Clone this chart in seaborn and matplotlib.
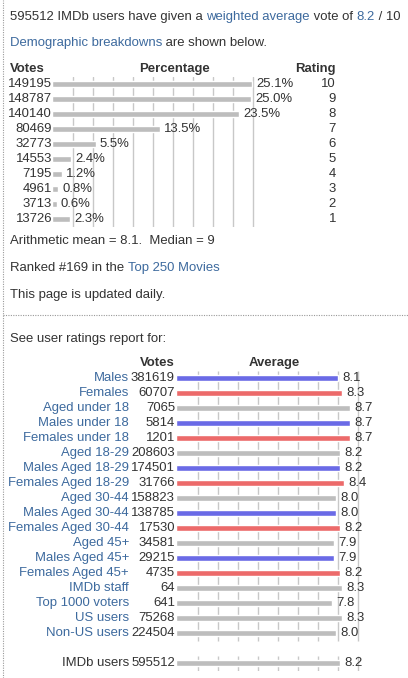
import numpy as np
import pandas as pd
import seaborn as sns
import matplotlib.pyplot as plt
from matplotlib.transforms import blended_transform_factory
from matplotlib.lines import Line2D

# rating distribution
ratings = [10, 9, 8, 7, 6, 5, 4, 3, 2, 1]
votes = [149195, 148787, 140140, 80469, 32773, 14553, 7195, 4961, 3713, 13726]
pct = [25.1, 25.0, 23.5, 13.5, 5.5, 2.4, 1.2, 0.8, 0.6, 2.3]

# demographic breakdown
groups = ["Males", "Females", "Aged under 18", "Males under 18", "Females under 18",
          "Aged 18-29", "Males Aged 18-29", "Females Aged 18-29", "Aged 30-44",
          "Males Aged 30-44", "Females Aged 30-44", "Aged 45+", "Males Aged 45+",
          "Females Aged 45+", "IMDb staff", "Top 1000 voters", "US users",
          "Non-US users", "IMDb users"]
group_votes = [381619, 60707, 7065, 5814, 1201, 208603, 174501, 31766, 158823,
               138785, 17530, 34581, 29215, 4735, 64, 641, 75268, 224504, 595512]
group_avg = [8.1, 8.3, 8.7, 8.7, 8.7, 8.2, 8.2, 8.4, 8.0, 8.0, 8.2, 7.9, 7.9,
             8.2, 8.3, 7.8, 8.3, 8.0, 8.2]
group_kind = ["m", "f", "a", "m", "f", "a", "m", "f", "a", "m", "f", "a", "m",
              "f", "a", "a", "a", "a", "a"]

W, H = 408, 678
TXT = "#333333"
LINK = "#3d6a9e"
GRID = "#c8c8c8"
FS = 9.45

sns.set_style("white")
plt.rcParams["font.family"] = ["Liberation Sans", "DejaVu Sans"]

fig = plt.figure(figsize=(W / 100, H / 100), dpi=100)


def fx(x):
    return x / W


def fy(y):
    return 1 - y / H


def rich(y, parts, x0=10):
    # draw a line of text made of coloured runs
    x = fx(x0)
    renderer = fig.canvas.get_renderer()
    for s, c in parts:
        t = fig.text(x, fy(y), s, color=c, fontsize=FS, va="center", ha="left")
        bb = t.get_window_extent(renderer=renderer)
        x += bb.width / W


def axes_px(left, top, right, bottom):
    return fig.add_axes([fx(left), fy(bottom), (right - left) / W, (bottom - top) / H])


rich(17, [("595512 IMDb users have given a ", TXT), ("weighted average", LINK),
          (" vote of ", TXT), ("8.2", LINK), (" / 10", TXT)])
rich(43, [("Demographic breakdowns", LINK), (" are shown below.", TXT)])

# top chart
PX_PER_PCT = 200 / 25.1
ax1 = axes_px(52, 76.5, 262, 226.5)
df1 = pd.DataFrame({"row": [str(r) for r in ratings], "pct": pct})
for g in np.arange(1, 11) * 2.51 + 0.1:
    ax1.axvline(g, color=GRID, lw=1, zorder=0)
sns.barplot(data=df1, x="pct", y="row", orient="h", color="#bdbdbd",
            saturation=1, width=0.36, ax=ax1, zorder=2)
ax1.set_xlim(0, 210 / PX_PER_PCT)
ax1.set_ylim(9.5, -0.5)
ax1.axis("off")
tr1 = blended_transform_factory(fig.transFigure, ax1.transData)
for i, (v, p, r) in enumerate(zip(votes, pct, ratings)):
    ax1.text(fx(52), i, str(v), transform=tr1, ha="right", va="center",
             fontsize=FS, color=TXT)
    ax1.annotate(f"{p}%", (p, i), xytext=(3, 0), textcoords="offset points",
                 ha="left", va="center", fontsize=FS, color=TXT, annotation_clip=False)
    ax1.text(fx(336), i, str(r), transform=tr1, ha="right", va="center",
             fontsize=FS, color=TXT)

fig.text(fx(10), fy(69), "Votes", fontsize=FS, weight="bold", color=TXT, va="center")
fig.text(fx(175), fy(69), "Percentage", fontsize=FS, weight="bold", color=TXT,
         va="center", ha="center")
fig.text(fx(336), fy(69), "Rating", fontsize=FS, weight="bold", color=TXT,
         va="center", ha="right")

fig.text(fx(10), fy(241), "Arithmetic mean = 8.1.  Median = 9", fontsize=FS,
         color=TXT, va="center")
rich(268, [("Ranked #169 in the ", TXT), ("Top 250 Movies", LINK)])
fig.text(fx(10), fy(295), "This page is updated daily.", fontsize=FS, color=TXT,
         va="center")
fig.add_artist(Line2D([fx(3), 1], [fy(315), fy(315)], color="#999999", lw=0.8,
                      ls=(0, (1, 1.2))))
fig.add_artist(Line2D([fx(2.5), fx(2.5)], [0, 1], color="#999999", lw=0.8,
                      ls=(0, (1, 1.2))))
fig.text(fx(10), fy(339), "See user ratings report for:", fontsize=FS, color=TXT,
         va="center")

# bottom chart
order = groups[:-1] + [" "] + groups[-1:]
df2 = pd.DataFrame({"group": groups, "avg": group_avg, "kind": group_kind})
ax2 = axes_px(176, 370.5, 372, 670.5)
for g in np.arange(1, 10) + 0.1:
    ax2.vlines(g, -0.5, 17.5, color=GRID, lw=1, zorder=0)
    ax2.vlines(g, 18.5, 19.5, color=GRID, lw=1, zorder=0)
sns.barplot(data=df2, x="avg", y="group", hue="kind", order=order, orient="h",
            palette={"m": "#6a6ae6", "f": "#ec6a6a", "a": "#bdbdbd"},
            hue_order=["m", "f", "a"], dodge=False, saturation=1, width=0.36,
            legend=False, ax=ax2, zorder=2)
ax2.set_xlim(0, 196 / 20)
ax2.set_ylim(19.5, -0.5)
ax2.axis("off")
tr2 = blended_transform_factory(fig.transFigure, ax2.transData)
for g, v, a in zip(groups, group_votes, group_avg):
    i = order.index(g)
    ax2.text(fx(129), i, g, transform=tr2, ha="right", va="center", fontsize=FS,
             color=TXT if g == "IMDb users" else LINK)
    ax2.text(fx(175), i, str(v), transform=tr2, ha="right", va="center",
             fontsize=FS, color=TXT)
    ax2.annotate(f"{a:.1f}", (a, i), xytext=(3, 0), textcoords="offset points",
                 ha="left", va="center", fontsize=FS, color=TXT, annotation_clip=False)

fig.text(fx(175), fy(363), "Votes", fontsize=FS, weight="bold", color=TXT,
         va="center", ha="right")
fig.text(fx(274), fy(363), "Average", fontsize=FS, weight="bold", color=TXT,
         va="center", ha="center")

fig.savefig("out.png", dpi=100, facecolor="white")
